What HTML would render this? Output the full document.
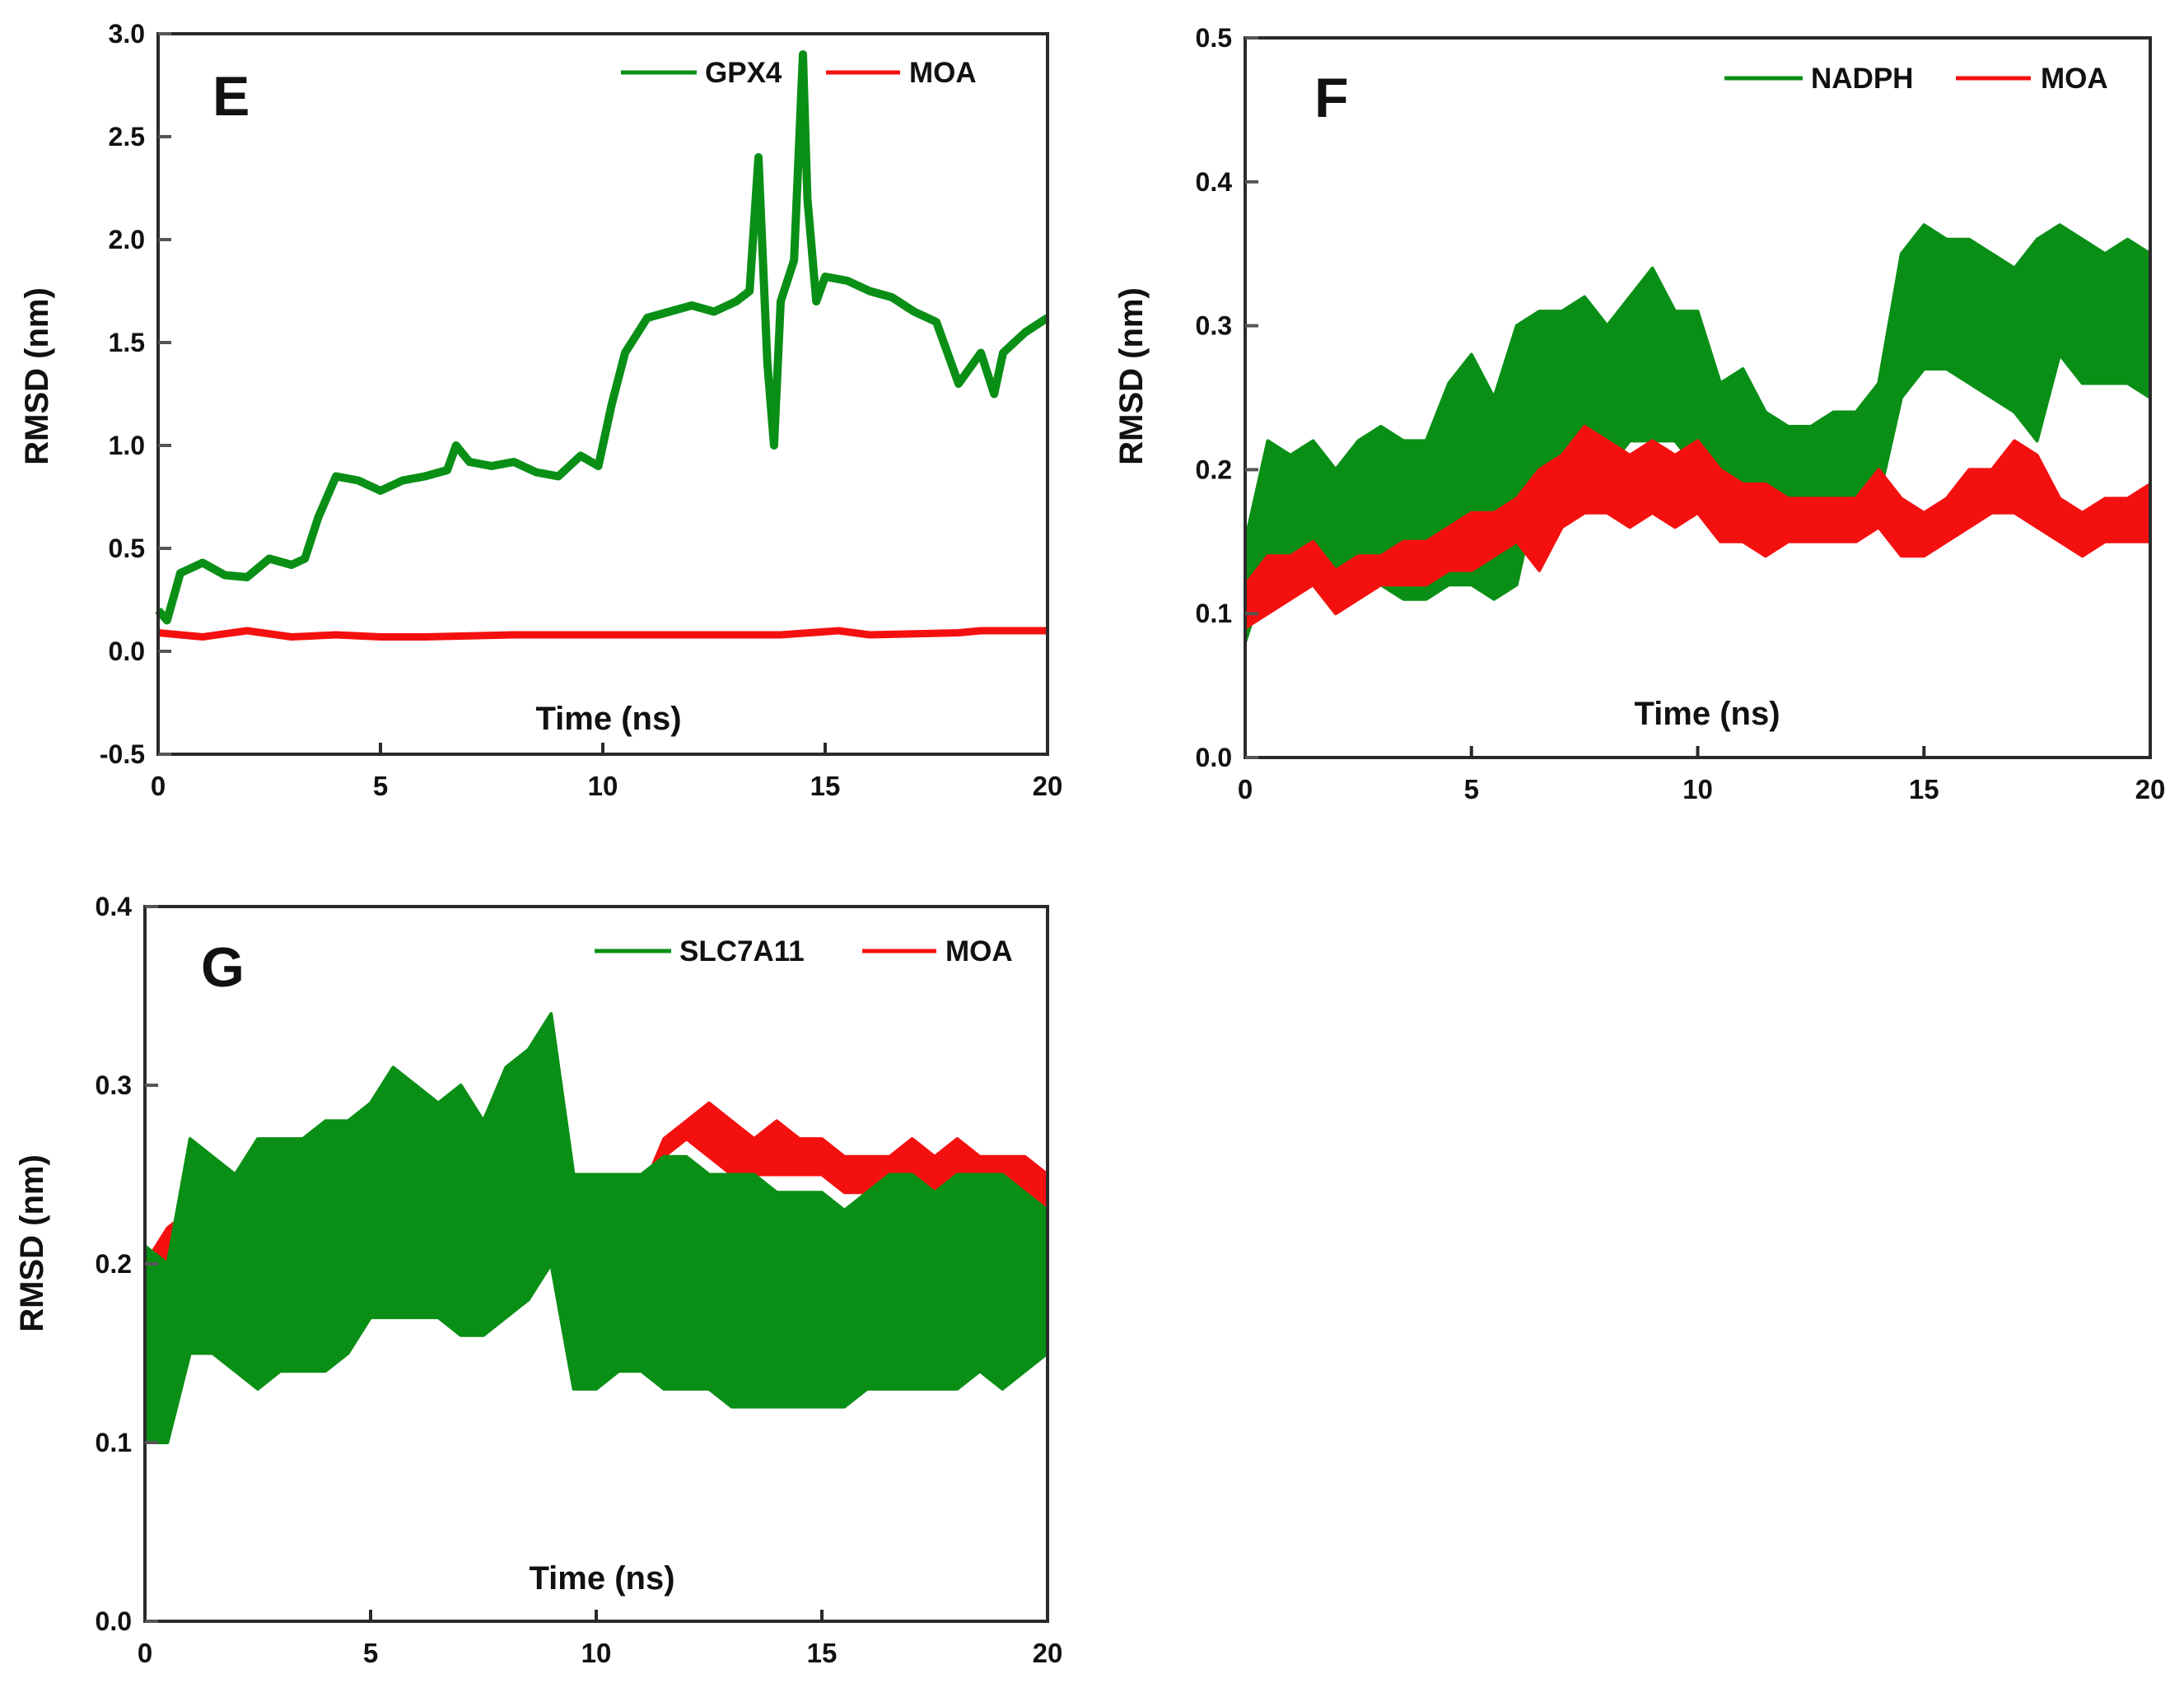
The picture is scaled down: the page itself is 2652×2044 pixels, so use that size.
<!DOCTYPE html>
<html><head><meta charset="utf-8"><style>
html,body{margin:0;padding:0;background:#fff;}
svg{display:block;font-family:"Liberation Sans",Arial,sans-serif;}
</style></head><body>
<svg id="fig" width="2652" height="2044" viewBox="0 0 2652 2044"></svg>
<script>
// ---------- DATA ----------
// Panel E
const eGpxT = [0,0.2,0.5,1,1.5,2,2.5,3,3.3,3.6,4,4.5,5,5.5,6,6.5,6.7,7,7.5,8,8.5,9,9.5,9.9,10.2,10.5,11,11.5,12,12.5,13,13.3,13.5,13.7,13.85,14,14.3,14.5,14.6,14.8,15,15.5,16,16.5,17,17.5,18,18.5,18.8,19,19.5,20];
const eGpxV = [0.2,0.15,0.38,0.43,0.37,0.36,0.45,0.42,0.45,0.65,0.85,0.83,0.78,0.83,0.85,0.88,1.0,0.92,0.9,0.92,0.87,0.85,0.95,0.9,1.2,1.45,1.62,1.65,1.68,1.65,1.7,1.75,2.4,1.4,1.0,1.7,1.9,2.9,2.2,1.7,1.82,1.8,1.75,1.72,1.65,1.6,1.3,1.45,1.25,1.45,1.55,1.62];
const eMoaT = [0,1,2,3,4,5,6,8,10,12,14,15.3,16,18,18.5,20];
const eMoaV = [0.09,0.07,0.1,0.07,0.08,0.07,0.07,0.08,0.08,0.08,0.08,0.1,0.08,0.09,0.1,0.1];
// Panel F (envelopes, 0.5 ns steps)
const fT = [0,0.5,1,1.5,2,2.5,3,3.5,4,4.5,5,5.5,6,6.5,7,7.5,8,8.5,9,9.5,10,10.5,11,11.5,12,12.5,13,13.5,14,14.5,15,15.5,16,16.5,17,17.5,18,18.5,19,19.5,20];
const fNadHi = [0.15,0.22,0.21,0.22,0.2,0.22,0.23,0.22,0.22,0.26,0.28,0.25,0.3,0.31,0.31,0.32,0.3,0.32,0.34,0.31,0.31,0.26,0.27,0.24,0.23,0.23,0.24,0.24,0.26,0.35,0.37,0.36,0.36,0.35,0.34,0.36,0.37,0.36,0.35,0.36,0.35];
const fNadLo = [0.08,0.13,0.13,0.12,0.1,0.12,0.12,0.11,0.11,0.12,0.12,0.11,0.12,0.19,0.2,0.22,0.2,0.22,0.22,0.22,0.2,0.17,0.17,0.17,0.16,0.16,0.17,0.17,0.18,0.25,0.27,0.27,0.26,0.25,0.24,0.22,0.28,0.26,0.26,0.26,0.25];
const fMoaHi = [0.12,0.14,0.14,0.15,0.13,0.14,0.14,0.15,0.15,0.16,0.17,0.17,0.18,0.2,0.21,0.23,0.22,0.21,0.22,0.21,0.22,0.2,0.19,0.19,0.18,0.18,0.18,0.18,0.2,0.18,0.17,0.18,0.2,0.2,0.22,0.21,0.18,0.17,0.18,0.18,0.19];
const fMoaLo = [0.09,0.1,0.11,0.12,0.1,0.11,0.12,0.12,0.12,0.13,0.13,0.14,0.15,0.13,0.16,0.17,0.17,0.16,0.17,0.16,0.17,0.15,0.15,0.14,0.15,0.15,0.15,0.15,0.16,0.14,0.14,0.15,0.16,0.17,0.17,0.16,0.15,0.14,0.15,0.15,0.15];
// Panel G
const gT = fT;
const gSlcHi = [0.21,0.2,0.27,0.26,0.25,0.27,0.27,0.27,0.28,0.28,0.29,0.31,0.3,0.29,0.3,0.28,0.31,0.32,0.34,0.25,0.25,0.25,0.25,0.26,0.26,0.25,0.25,0.25,0.24,0.24,0.24,0.23,0.24,0.25,0.25,0.24,0.25,0.25,0.25,0.24,0.23];
const gSlcLo = [0.1,0.1,0.15,0.15,0.14,0.13,0.14,0.14,0.14,0.15,0.17,0.17,0.17,0.17,0.16,0.16,0.17,0.18,0.2,0.13,0.13,0.14,0.14,0.13,0.13,0.13,0.12,0.12,0.12,0.12,0.12,0.12,0.13,0.13,0.13,0.13,0.13,0.14,0.13,0.14,0.15];
const gMoaHi = [0.2,0.22,0.23,0.23,0.24,0.24,0.25,0.24,0.25,0.24,0.24,0.24,0.24,0.24,0.24,0.24,0.24,0.24,0.24,0.25,0.24,0.24,0.24,0.27,0.28,0.29,0.28,0.27,0.28,0.27,0.27,0.26,0.26,0.26,0.27,0.26,0.27,0.26,0.26,0.26,0.25];
const gMoaLo = [0.18,0.19,0.2,0.2,0.21,0.21,0.21,0.21,0.21,0.21,0.21,0.21,0.21,0.21,0.21,0.21,0.21,0.21,0.21,0.22,0.21,0.22,0.22,0.26,0.27,0.26,0.25,0.25,0.25,0.25,0.25,0.24,0.24,0.23,0.24,0.24,0.24,0.24,0.24,0.24,0.23];
// Ticks
const xTicks = [0,5,10,15,20];
const eYTicks = [-0.5,0,0.5,1,1.5,2,2.5,3];
const eYLabels = ["-0.5","0.0","0.5","1.0","1.5","2.0","2.5","3.0"];
const fYTicks = [0,0.1,0.2,0.3,0.4,0.5];
const fYLabels = ["0.0","0.1","0.2","0.3","0.4","0.5"];
const gYTicks = [0,0.1,0.2,0.3,0.4];
const gYLabels = ["0.0","0.1","0.2","0.3","0.4"];

// ---------- DRAW ----------
const NS = "http://www.w3.org/2000/svg";
const svg = document.getElementById('fig');
function mk(tag, attrs, parent){const e=document.createElementNS(NS,tag);for(const k in attrs)e.setAttribute(k,attrs[k]);(parent||svg).appendChild(e);return e;}
const GREEN="#0a8f16", RED="#f51010";

function panel(id, L, R, T, B, y0, y1, yTicks, yLabels){
  const g = mk('g',{});
  
  
  const sx = v => L + (v/20)*(R-L);
  const sy = v => B - (v-y0)/(y1-y0)*(B-T);
  const plot = mk('g',{},g);
  
  
  return {g, plot, sx, sy, L, R, T, B, yTicks, yLabels};
}
function axes(p, id){
  const {g,sx,sy,L,R,T,B} = p;
  const fr = mk('rect',{x:L,y:T,width:R-L,height:B-T,fill:'none',stroke:'#2a2a2a','stroke-width':4},g);
  
  
  xTicks.forEach(v=>{
    const l = mk('line',{x1:sx(v),x2:sx(v),y1:B,y2:B-14,stroke:'#2a2a2a','stroke-width':4},g);
    
    
    const t = mk('text',{x:sx(v),y:B+50,'text-anchor':'middle','font-size':33,'font-weight':'bold',fill:'#111'},g);
    t.textContent = v;
    
    
  });
  p.yTicks.forEach((v,i)=>{
    const l = mk('line',{x1:L,x2:L+16,y1:sy(v),y2:sy(v),stroke:'#555','stroke-width':4},g);
    
    
    const t = mk('text',{x:L-16,y:sy(v)+11,'text-anchor':'end','font-size':32,'font-weight':'bold',fill:'#111'},g);
    t.textContent = p.yLabels[i];
    
    
  });
}
function band(p, ts, lo, hi, color, name){
  let d = 'M';
  ts.forEach((t,i)=>{ d += (i?' L':'') + p.sx(t).toFixed(1)+' '+p.sy(hi[i]).toFixed(1); });
  for(let i=ts.length-1;i>=0;i--) d += ' L'+p.sx(ts[i]).toFixed(1)+' '+p.sy(lo[i]).toFixed(1);
  d += ' Z';
  const e = mk('path',{d, fill:color, stroke:color,'stroke-width':4,'stroke-linejoin':'round'},p.plot);
  
  
}
function line(p, ts, vs, color, w, name){
  const pts = ts.map((t,i)=>p.sx(t).toFixed(1)+','+p.sy(vs[i]).toFixed(1)).join(' ');
  const e = mk('polyline',{points:pts, fill:'none', stroke:color,'stroke-width':w,'stroke-linejoin':'round'},p.plot);
  
  
}
function text(x,y,str,size,name,extra){
  const t = mk('text',Object.assign({x,y,'font-size':size,'font-weight':'bold',fill:'#111'},extra||{}));
  t.textContent = str;
  
  
  return t;
}
function legend(x1,x2,y,tx,label,color,name){
  const l = mk('line',{x1,x2,y1:y,y2:y,stroke:color,'stroke-width':5});
  
  
  text(tx,y+12,label,35,name+'-label');
}

// Panel E
const pE = panel('e',192,1272,41,916,-0.5,3.0,eYTicks,eYLabels);
line(pE, eMoaT, eMoaV, RED, 9, 'moa-line-e');
line(pE, eGpxT, eGpxV, GREEN, 10, 'gpx4-line');
axes(pE,'e');
text(258,140,'E',68,'panel-label-e');
text(739,886,'Time (ns)',40,'x-axis-title-e',{'text-anchor':'middle'});
text(0,0,'RMSD (nm)',40,'y-axis-title-e',{'text-anchor':'middle',transform:'translate(58,457) rotate(-90)'});
legend(754,846,88,856,'GPX4',GREEN,'legend-gpx4');
legend(1003,1093,88,1104,'MOA',RED,'legend-moa-e');

// Panel F
const pF = panel('f',1512,2611,46,920,0,0.5,fYTicks,fYLabels);
band(pF, fT, fNadLo, fNadHi, GREEN, 'nadph-band');
band(pF, fT, fMoaLo, fMoaHi, RED, 'moa-band-f');
axes(pF,'f');
text(1596,142,'F',68,'panel-label-f');
text(2073,880,'Time (ns)',40,'x-axis-title-f',{'text-anchor':'middle'});
text(0,0,'RMSD (nm)',40,'y-axis-title-f',{'text-anchor':'middle',transform:'translate(1387,457) rotate(-90)'});
legend(2094,2189,95,2199,'NADPH',GREEN,'legend-nadph');
legend(2375,2466,95,2478,'MOA',RED,'legend-moa-f');

// Panel G
const pG = panel('g',176,1272,1101,1969,0,0.4,gYTicks,gYLabels);
band(pG, gT, gMoaLo, gMoaHi, RED, 'moa-band-g');
band(pG, gT, gSlcLo, gSlcHi, GREEN, 'slc7a11-band');
axes(pG,'g');
text(244,1198,'G',68,'panel-label-g');
text(731,1930,'Time (ns)',40,'x-axis-title-g',{'text-anchor':'middle'});
text(0,0,'RMSD (nm)',40,'y-axis-title-g',{'text-anchor':'middle',transform:'translate(52,1510) rotate(-90)'});
legend(722,815,1155,825,'SLC7A11',GREEN,'legend-slc7a11');
legend(1047,1137,1155,1148,'MOA',RED,'legend-moa-g');
</script>
</body></html>
